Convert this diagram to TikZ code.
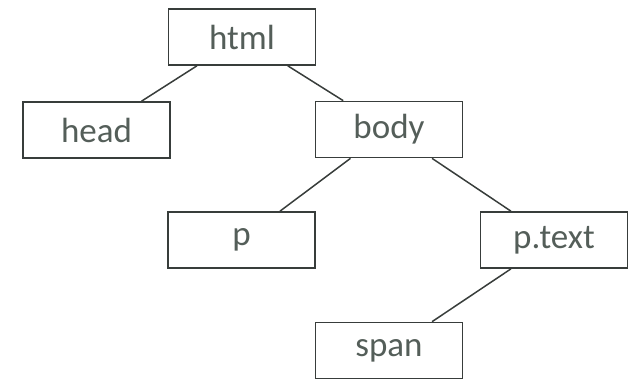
\documentclass[tikz,border=0pt]{standalone}
\usepackage{fontspec}
\setmainfont{Carlito}
\usepackage{xcolor}
\definecolor{boxline}{rgb}{0.22,0.24,0.23}
\definecolor{boxtext}{rgb}{0.33,0.37,0.35}
\begin{document}
\begin{tikzpicture}[x=1pt,y=-1pt]
    \useasboundingbox (0,0) rectangle (631,378);

    \tikzstyle{tag}=[draw=boxline,line width=1.7pt,minimum width=147pt,minimum height=56pt,inner sep=0pt,text=boxtext,font=\fontsize{35}{40}\selectfont]

    \node[tag]  (html) at (242,37) {html};
    \node[tag]  (head) at (96.5,130) {head};
    \node[tag]  (body) at (389,129.5) {body};

    \node[tag]  (p) at (241.5,240) {p};
    \node[tag]  (ptext) at (554,240) {p.text};

    \node[tag]  (span) at (389,350.5) {span};

    \tikzstyle{edge} = [draw=boxline, line width=1.5pt]

          \draw [edge] (html) -- (head);
          \draw [edge] (html) -- (body);
          \draw [edge] (body) -- (p);
          \draw [edge] (body) -- (ptext);
          \draw [edge] (ptext) -- (span);

  \end{tikzpicture}
\end{document}
